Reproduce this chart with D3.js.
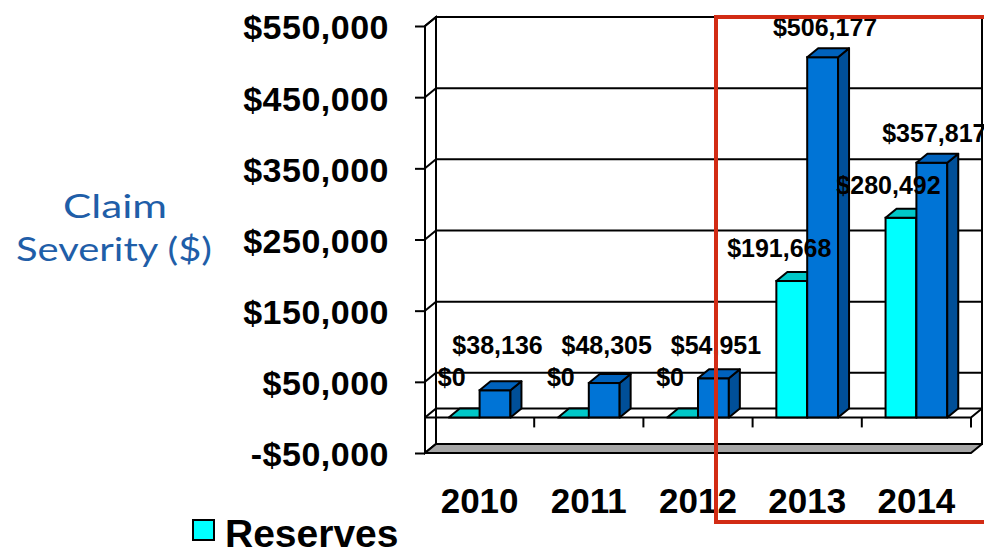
<!DOCTYPE html>
<html>
<head>
<meta charset="utf-8">
<script src="https://cdn.jsdelivr.net/npm/d3@7"></script>
<style>
  html, body { margin: 0; padding: 0; background: #fff; }
  svg { display: block; }
</style>
</head>
<body>
<svg id="chart" width="984" height="554"></svg>
<script>
// Claim severity by accident year: reserves vs paid
const years = ["2010", "2011", "2012", "2013", "2014"];
const reserves = [0, 0, 0, 191668, 280492];
const paid = [38136, 48305, 54951, 506177, 357817];
const yTicks = [-50000, 50000, 150000, 250000, 350000, 450000, 550000];
const seriesNames = ["Reserves", "Paid"];

const svg = d3.select("#chart");

// 3-D projection offset for depth (walls and bars)
const DX = 11, DY = -9;

const y = d3.scaleLinear().domain([-50000, 550000]).range([453, 26]);
const x = d3.scaleBand().domain(years).range([425, 971]).paddingInner(0).paddingOuter(0);
const xs = d3.scaleBand().domain(seriesNames).range([0, x.bandwidth()]).paddingInner(0).paddingOuter(0.77);

const money = v => (v < 0 ? "-$" : "$") + d3.format(",")(Math.abs(v));
const stroke = "#000";
const x0 = x.range()[0], x1 = x.range()[1];
const yTop = y(550000), yBot = y(-50000), yZero = y(0);

// ---- walls ----
const walls = svg.append("g");
// back wall
walls.append("rect")
  .attr("x", x0 + DX).attr("y", yTop + DY)
  .attr("width", x1 - x0).attr("height", yBot - yTop)
  .attr("fill", "#fff").attr("stroke", stroke).attr("stroke-width", 2);
// side wall
walls.append("polygon")
  .attr("points", [[x0, yTop], [x0 + DX, yTop + DY], [x0 + DX, yBot + DY], [x0, yBot]].join(" "))
  .attr("fill", "#fff").attr("stroke", stroke).attr("stroke-width", 2);

// gridlines on back and side walls
yTicks.forEach(t => {
  const yy = y(t);
  walls.append("line")
    .attr("x1", x0 + DX).attr("x2", x1 + DX)
    .attr("y1", yy + DY).attr("y2", yy + DY)
    .attr("stroke", stroke).attr("stroke-width", 2);
  walls.append("line")
    .attr("x1", x0).attr("x2", x0 + DX)
    .attr("y1", yy).attr("y2", yy + DY)
    .attr("stroke", stroke).attr("stroke-width", 2);
});

// floor at the axis minimum
walls.append("polygon")
  .attr("points", [[x0, yBot], [x0 + DX, yBot + DY], [x1 + DX, yBot + DY], [x1, yBot]].join(" "))
  .attr("fill", "#a6a6a6").attr("stroke", stroke).attr("stroke-width", 2)
  .attr("stroke-linejoin", "round");

// zero plane outline
walls.append("polyline")
  .attr("points", [[x0, yZero], [x0 + DX, yZero + DY], [x1 + DX, yZero + DY]].join(" "))
  .attr("fill", "none").attr("stroke", stroke).attr("stroke-width", 2);
walls.append("polyline")
  .attr("points", [[x0, yZero], [x1, yZero], [x1 + DX, yZero + DY]].join(" "))
  .attr("fill", "none").attr("stroke", stroke).attr("stroke-width", 2);

// front value axis line
walls.append("line")
  .attr("x1", x0).attr("x2", x0).attr("y1", yTop).attr("y2", yBot)
  .attr("stroke", stroke).attr("stroke-width", 2);

// value axis (labels + ticks)
const yAxis = d3.axisLeft(y).tickValues(yTicks).tickSize(10).tickPadding(26).tickFormat(money);
const yG = svg.append("g").attr("transform", `translate(${x0},0)`).call(yAxis);
yG.select(".domain").remove();
yG.selectAll(".tick line").attr("stroke", stroke).attr("stroke-width", 2);
yG.selectAll(".tick text")
  .attr("font-family", "'Liberation Sans', Arial, sans-serif")
  .attr("font-weight", "bold").attr("font-size", 34)
  .attr("letter-spacing", 0.5)
  .attr("fill", "#000").attr("dy", "0.38em");

// category ticks on the zero line
years.forEach(yr => {
  const xx = x(yr) + x.bandwidth();
  svg.append("line")
    .attr("x1", xx).attr("x2", xx).attr("y1", yZero).attr("y2", yZero + 10)
    .attr("stroke", stroke).attr("stroke-width", 2);
});

// category labels
const xAxis = d3.axisBottom(x).tickSize(0).tickPadding(0);
const xG = svg.append("g").attr("transform", "translate(0,513)").call(xAxis);
xG.select(".domain").remove();
xG.selectAll(".tick text")
  .attr("font-family", "'Liberation Sans', Arial, sans-serif")
  .attr("font-weight", "bold").attr("font-size", 35)
  .attr("fill", "#000").attr("dy", 0).attr("y", 0);

// ---- bars ----
const colors = {
  Reserves: { front: "#00ffff", top: "#00c8c8", side: "#00a8a8" },
  Paid: { front: "#0074d6", top: "#0062bc", side: "#004f98" }
};

function drawBar(g, bx, bw, v, c) {
  const yf = y(v);
  if (v > 0) {
    g.append("rect").attr("x", bx).attr("y", yf).attr("width", bw).attr("height", yZero - yf)
      .attr("fill", c.front).attr("stroke", stroke).attr("stroke-width", 2);
    g.append("polygon")
      .attr("points", [[bx + bw, yf], [bx + bw + DX, yf + DY], [bx + bw + DX, yZero + DY], [bx + bw, yZero]].join(" "))
      .attr("fill", c.side).attr("stroke", stroke).attr("stroke-width", 2).attr("stroke-linejoin", "round");
  }
  g.append("polygon")
    .attr("points", [[bx, yf], [bx + DX, yf + DY], [bx + bw + DX, yf + DY], [bx + bw, yf]].join(" "))
    .attr("fill", c.top).attr("stroke", stroke).attr("stroke-width", 2).attr("stroke-linejoin", "round");
}

const bars = svg.append("g");
const labelData = [];
years.forEach((yr, i) => {
  [["Reserves", reserves[i]], ["Paid", paid[i]]].forEach(([name, v]) => {
    const bx = x(yr) + xs(name);
    drawBar(bars, bx, xs.bandwidth(), v, colors[name]);
    const backTop = y(v) + DY;
    const cx = bx + xs.bandwidth() / 2 + DX / 2;
    if (name === "Reserves") {
      labelData.push({ v, x: cx - 18, y: Math.min(backTop - 15, 386) });
    } else {
      labelData.push({ v, x: cx - 3, y: Math.min(backTop - 12, 354) });
    }
  });
});

// value labels
svg.append("g").selectAll("text").data(labelData).join("text")
  .attr("x", d => d.x).attr("y", d => d.y)
  .attr("text-anchor", "middle")
  .attr("font-family", "'Liberation Sans', Arial, sans-serif")
  .attr("font-weight", "bold").attr("font-size", 25)
  .attr("fill", "#000")
  .text(d => money(d.v));

// value axis title
const title = svg.append("g")
  .attr("font-family", "'Lato', 'Open Sans', sans-serif")
  .attr("font-weight", 400).attr("font-size", 32).attr("fill", "#1f5ea8")
  .attr("text-anchor", "middle");
title.append("text").attr("x", 115).attr("y", 218)
  .attr("textLength", 104).attr("lengthAdjust", "spacingAndGlyphs").text("Claim");
title.append("text").attr("x", 114).attr("y", 261)
  .attr("textLength", 196).attr("lengthAdjust", "spacingAndGlyphs").text("Severity ($)");

// legend
const legend = svg.append("g");
legend.append("rect").attr("x", 193).attr("y", 520).attr("width", 21).attr("height", 20)
  .attr("fill", colors.Reserves.front).attr("stroke", stroke).attr("stroke-width", 2);
legend.append("text").attr("x", 225).attr("y", 547)
  .attr("font-family", "'Liberation Sans', Arial, sans-serif")
  .attr("font-weight", "bold").attr("font-size", 39).attr("fill", "#000")
  .text(seriesNames[0]);

// highlight box around the latest years
svg.append("rect")
  .attr("x", 716).attr("y", 17).attr("width", 300).attr("height", 505)
  .attr("fill", "none").attr("stroke", "#d22b14").attr("stroke-width", 4);
</script>
</body>
</html>
